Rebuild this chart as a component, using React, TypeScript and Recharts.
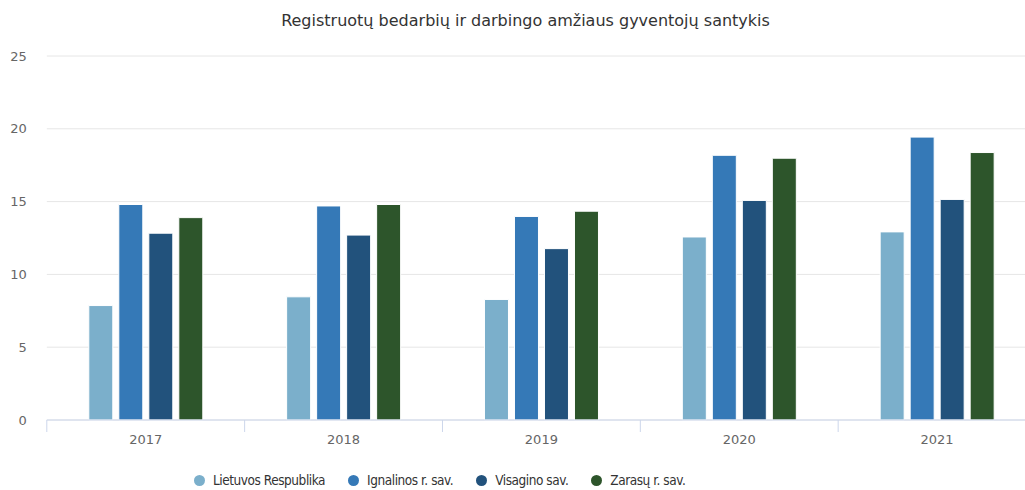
import { BarChart, Bar, XAxis, YAxis, CartesianGrid } from 'recharts'

const years = ['2017', '2018', '2019', '2020', '2021']
const lietuva = [7.86, 8.46, 8.28, 12.57, 12.92]
const ignalina = [14.8, 14.7, 13.98, 18.18, 19.43]
const visaginas = [12.83, 12.7, 11.77, 15.08, 15.15]
const zarasai = [13.9, 14.8, 14.34, 17.98, 18.37]
const yTicks = [0, 5, 10, 15, 20, 25]

const seriesList = [
  { key: 'lt', name: 'Lietuvos Respublika', color: '#7bafcb' },
  { key: 'ig', name: 'Ignalinos r. sav.', color: '#3579b7' },
  { key: 'vs', name: 'Visagino sav.', color: '#22527c' },
  { key: 'zr', name: 'Zarasų r. sav.', color: '#2d552b' },
]

const data = years.map((y, i) => ({
  year: y,
  lt: lietuva[i],
  ig: ignalina[i],
  vs: visaginas[i],
  zr: zarasai[i],
}))

const W = 1036
const LEFT = 46.8
const BAND = (W - LEFT) / years.length
const FONT = '"DejaVu Sans", sans-serif'
const COND = '"DejaVu Sans Condensed", "DejaVu Sans", sans-serif'

function YearTick(props: any) {
  const { x, y, payload, index } = props
  const bx = x - BAND / 2
  return (
    <g>
      <line x1={bx} x2={bx} y1={y} y2={y + 12} stroke="#ccd6eb" />
      {index === years.length - 1 && (
        <line x1={x + BAND / 2} x2={x + BAND / 2} y1={y} y2={y + 12} stroke="#ccd6eb" />
      )}
      <text x={x} y={y + 24} textAnchor="middle" fill="#666" fontSize={13} fontFamily={FONT}>
        {payload.value}
      </text>
    </g>
  )
}

export default function App() {
  return (
    <div style={{ position: 'fixed', left: 0, top: 0, width: 1025, height: 490, overflow: 'hidden', background: '#fff', fontFamily: FONT }}>
      <div style={{ position: 'absolute', left: 0, top: 11, width: 1051, textAlign: 'center', fontSize: 16, color: '#333' }}>
        Registruotų bedarbių ir darbingo amžiaus gyventojų santykis
      </div>
      <div style={{ position: 'absolute', left: 0, top: 0 }}>
        <BarChart width={W} height={490} data={data} margin={{ top: 56, right: 0, left: 0, bottom: 0 }} barGap={6} barCategoryGap={42}>
          <CartesianGrid vertical={false} stroke="#e6e6e6" />
          <XAxis dataKey="year" height={70} axisLine={{ stroke: '#ccd6eb' }} tickLine={false} tickSize={0} tickMargin={0} tick={<YearTick />} interval={0} />
          <YAxis
            width={LEFT}
            domain={[0, 25]}
            ticks={yTicks}
            axisLine={false}
            tickLine={false}
            tickSize={0}
            tickMargin={20}
            tick={{ fill: '#666', fontSize: 13, fontFamily: FONT }}
          />
          {seriesList.map((s) => (
            <Bar key={s.key} dataKey={s.key} name={s.name} fill={s.color} stroke="#fff" strokeWidth={1} isAnimationActive={false} />
          ))}
        </BarChart>
      </div>
      <div style={{ position: 'absolute', left: 194, top: 472, display: 'flex', gap: 23, fontSize: 13.5, letterSpacing: -0.45, color: '#333', fontFamily: COND }}>
        {seriesList.map((s) => (
          <div key={s.key} style={{ display: 'flex', alignItems: 'center' }}>
            <span style={{ width: 11, height: 11, borderRadius: '50%', background: s.color, marginRight: 8, display: 'inline-block' }} />
            {s.name}
          </div>
        ))}
      </div>
    </div>
  )
}
